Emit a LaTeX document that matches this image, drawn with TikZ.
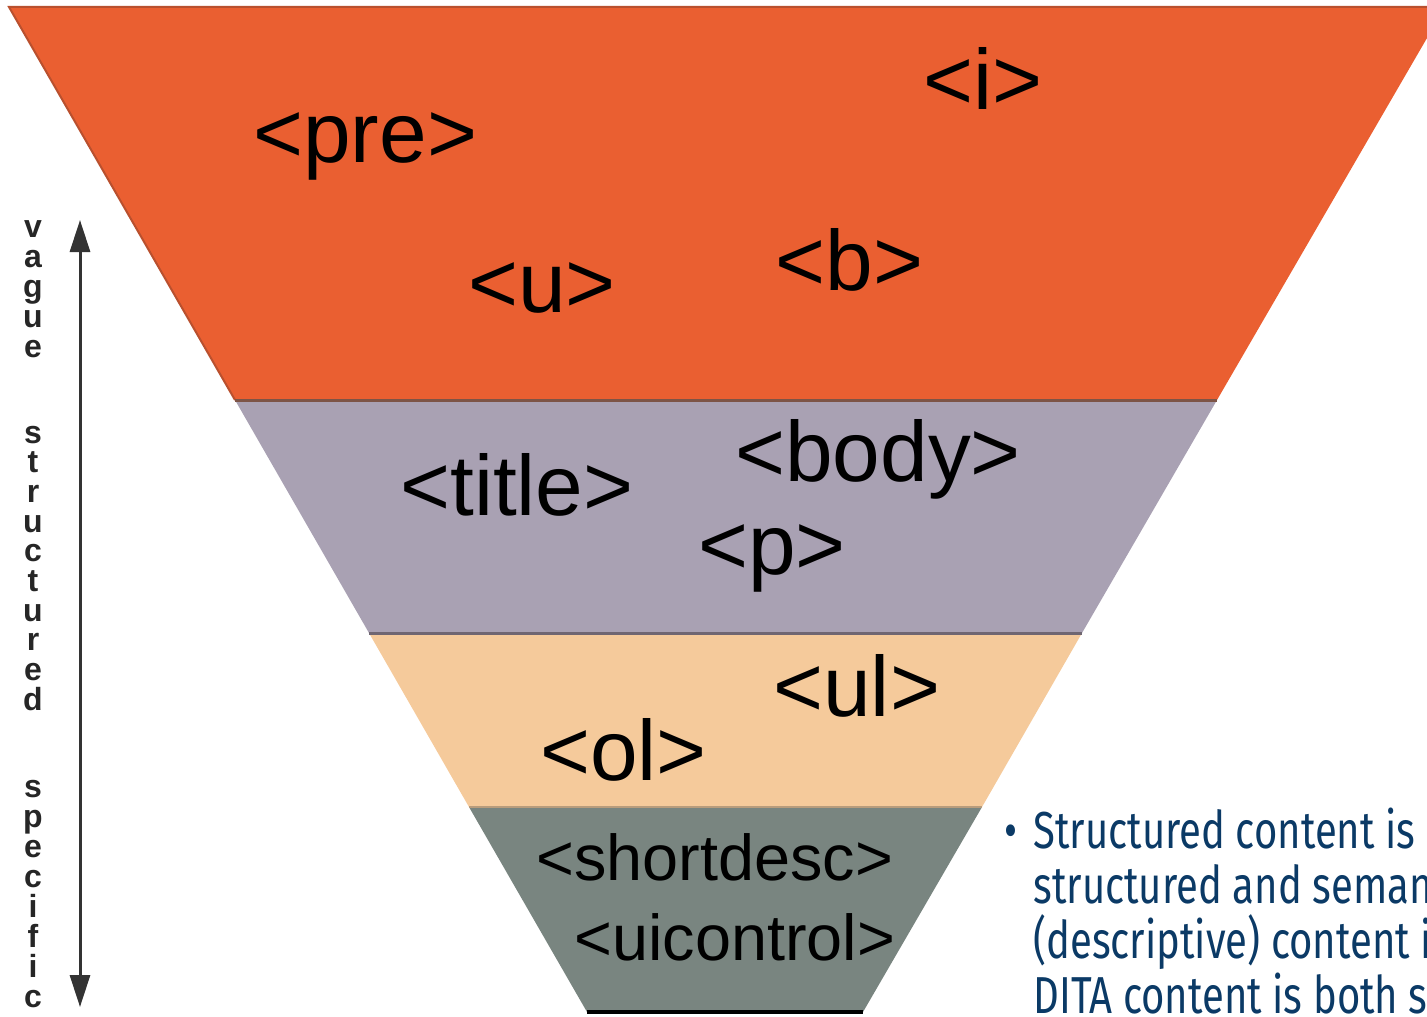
\documentclass[tikz,border=0pt]{standalone}
\usepackage{fontspec}
\setmainfont{Liberation Sans}
\newfontfamily\notefont[FakeStretch=0.77]{Fira Sans}
\usetikzlibrary{arrows.meta}

\definecolor{bandorange}{HTML}{EA5F31}
\definecolor{bandpurple}{HTML}{A9A1B3}
\definecolor{bandpeach}{HTML}{F5CA9B}
\definecolor{bandgray}{HTML}{798580}
\definecolor{edgeorange}{HTML}{B9502E}
\definecolor{edgebrown}{HTML}{7D5446}
\definecolor{edgepurple}{HTML}{6F6672}
\definecolor{edgepeach}{HTML}{B89C7C}
\definecolor{notecolor}{HTML}{0B3A66}
\definecolor{arrowgray}{HTML}{333333}

\tikzset{
  tag/.style={anchor=base west, inner sep=0pt, text=black,
    font=\fontsize{42.8}{48}\selectfont},
  smalltag/.style={anchor=base west, inner sep=0pt, text=black,
    font=\fontsize{32.4}{36}\selectfont},
  letter/.style={anchor=base, inner sep=0pt, text=black!85,
    font=\bfseries\fontsize{16}{16}\selectfont},
  note/.style={anchor=base west, inner sep=0pt, text=notecolor,
    font=\notefont\fontsize{26}{28}\selectfont},
  bandline/.style={line width=1.5pt}
}

\begin{document}
\begin{tikzpicture}[x=0.5pt, y=-0.5pt]
  \useasboundingbox (0,0) rectangle (1427,1016);
  \clip (0,0) rectangle (1427,1016);

  % corner points of the funnel bands
  \coordinate (tl) at (9,7);
  \coordinate (tr) at (1445,7);
  \coordinate (l1) at (235,400);
  \coordinate (r1) at (1217,400);
  \coordinate (l2) at (369,633);
  \coordinate (r2) at (1082,633);
  \coordinate (l3) at (469,807);
  \coordinate (r3) at (982,807);
  \coordinate (l4) at (587,1012);
  \coordinate (r4) at (863,1012);

  % bands, widest at the top
  \fill[bandorange] (tl) -- (tr) -- (r1) -- (l1) -- cycle;
  \fill[bandpurple] (l1) -- (r1) -- (r2) -- (l2) -- cycle;
  \fill[bandpeach]  (l2) -- (r2) -- (r3) -- (l3) -- cycle;
  \fill[bandgray]   (l3) -- (r3) -- (r4) -- (l4) -- cycle;

  % edges and band separators
  \draw[edgeorange, line width=1pt] (l1) -- (tl) -- (tr);
  \draw[edgebrown, bandline] (l1) -- (r1);
  \draw[edgepurple, bandline] (l2) -- (r2);
  \draw[edgepeach, line width=1pt] (l3) -- (r3);
  \draw[black, line width=1.6pt] (l4) -- (r4);

  % element names
  \node[tag] (pre)   at (253,163) {<pre>};
  \node[tag] (ital)  at (923,110) {<i>};
  \node[tag] (und)   at (468,312) {<u>};
  \node[tag] (bold)  at (775,290) {<b>};
  \node[tag] (title) at (400,515) {<title>};
  \node[tag] (body)  at (735,481) {<body>};
  \node[tag] (para)  at (698,574) {<p>};
  \node[tag] (ul)    at (773,716) {<ul>};
  \node[tag] (ol)    at (540,780) {<ol>};
  \node[smalltag] (short) at (536,880) {<shortdesc>};
  \node[smalltag] (uic)   at (574,960) {<uicontrol>};

  % scale from vague to specific
  \coordinate (scaletop) at (80,220);
  \coordinate (scalebot) at (80,1007);
  \draw[arrowgray, line width=1.5pt,
    {Triangle[length=16pt,width=10pt]}-{Triangle[length=16pt,width=10pt]}]
    (scalebot) -- (scaletop);

  \foreach \ch [count=\i from 0] in {v,a,g,u,e}
    \node[letter] (vague-\i) at (33,237+30*\i) {\ch};
  \foreach \ch [count=\i from 0] in {s,t,r,u,c,t,u,r,e,d}
    \node[letter] (struct-\i) at (33,443+29.7*\i) {\ch};
  \foreach \ch [count=\i from 0] in {s,p,e,c,i,f,i,c}
    \node[letter] (spec-\i) at (33,797+30*\i) {\ch};

  % note beside the funnel
  \node[note] (bullet) at (1004,848) {•};
  \node[note] (note1) at (1033,848) {Structured content is};
  \node[note] (note2) at (1033,903) {structured and seman};
  \node[note] (note3) at (1033,958) {(descriptive) content is};
  \node[note] (note4) at (1033,1013) {DITA content is both s};
\end{tikzpicture}
\end{document}
